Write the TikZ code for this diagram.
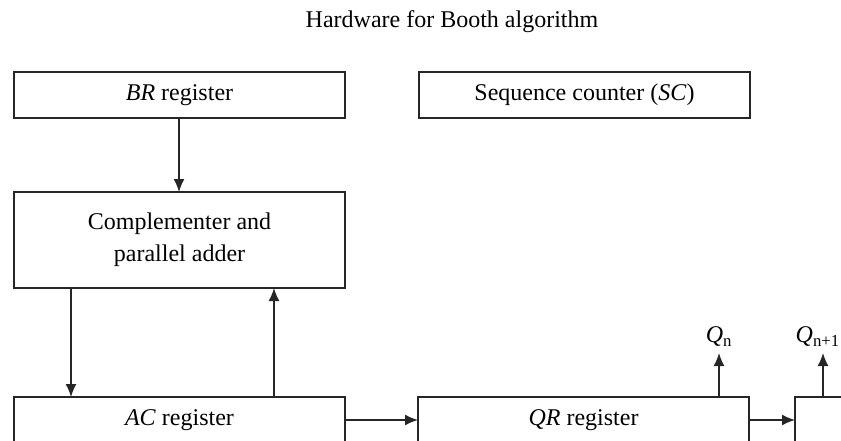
\documentclass[tikz,border=0pt]{standalone}
\usepackage{fontspec}
\setmainfont{Liberation Serif}
\usetikzlibrary{arrows.meta, positioning}
\tikzset{
  reg/.style={
    rectangle,
    draw=black!85,
    line width=1.5pt,
    inner sep=0pt,
    outer sep=0pt,
    align=center,
    minimum width=331pt,
    minimum height=46pt,
    font=\fontsize{24}{32}\selectfont
  },
  arrow/.style={
    line width=1.5pt,
    draw=black!85,
    -{Latex[length=13pt,width=11pt]}
  },
  qlabel/.style={
    inner xsep=0pt,
    inner ysep=6pt,
    font=\fontsize{24}{32}\selectfont
  }
}

\begin{document}
\begin{tikzpicture}[x=1pt, y=1pt, node distance=74pt and 74pt]
  \clip (0,0) rectangle (841,440);
  % Title
  \node[font=\fontsize{24}{32}\selectfont] (title) at (452,418) {Hardware for Booth algorithm};

  % Registers
  \node[reg] (br) at (179.5,345) {\textit{BR} register};
  \node[reg, right=74pt of br] (sc) {Sequence counter (\textit{SC})};
  \node[reg, below=74pt of br, minimum height=96pt] (comp) {Complementer and\\parallel adder};
  \node[reg, below=109pt of comp] (ac) {\textit{AC} register};
  \node[reg, right=73pt of ac] (qr) {\textit{QR} register};
  \node[reg, right=46pt of qr, minimum width=56pt] (qnext) {};

  % Output bits
  \node[qlabel, anchor=south] (qn) at (719,87) {\textit{Q}\textsubscript{n}};
  \node[qlabel, anchor=south east] (qn1) at (840,87) {\textit{Q}\textsubscript{n+1}};

  % Data paths
  \draw[arrow] ([xshift=-0.5pt]br.south) -- ([xshift=-0.5pt]comp.north);
  \draw[arrow] ([xshift=-108.5pt]comp.south) -- ([xshift=-108.5pt]ac.north);
  \draw[arrow] ([xshift=94.5pt]ac.north) -- ([xshift=94.5pt]comp.south);
  \draw[arrow] (ac) -- (qr);
  \draw[arrow] (qr) -- (qnext);
  \draw[arrow] (qr.north -| qn) -- (qn.south);
  \draw[arrow] (qnext.north) -- (qnext.north |- qn1.south);
\end{tikzpicture}
\end{document}
